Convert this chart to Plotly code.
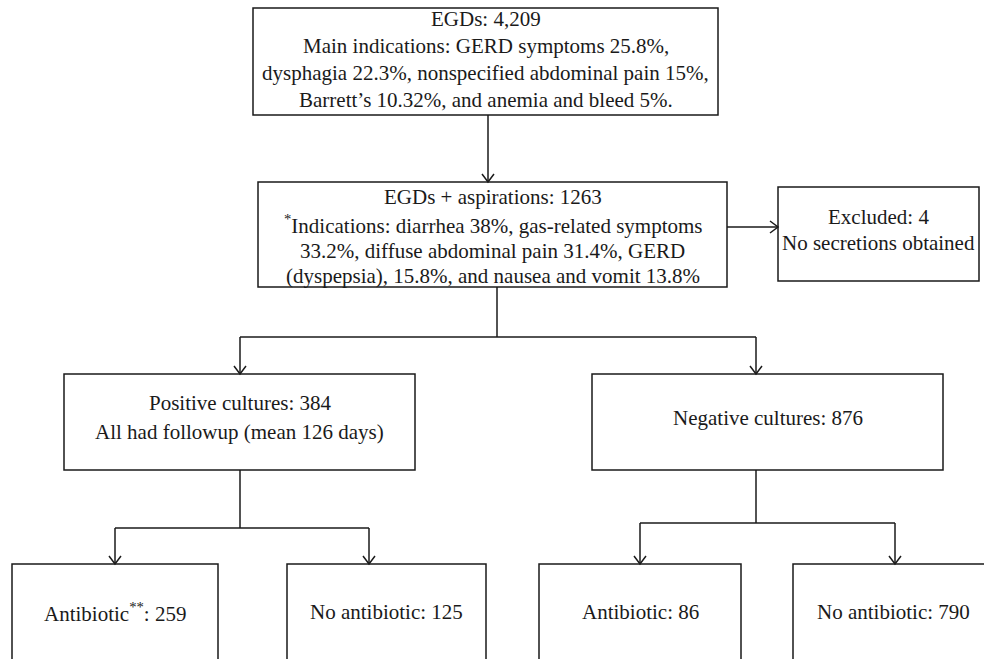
import plotly.graph_objects as go

# ---------------- data ----------------
egds_total = "4,209"
main_indications = ["GERD symptoms 25.8%,",
                    "dysphagia 22.3%, nonspecified abdominal pain 15%,",
                    "Barrett\u2019s 10.32%, and anemia and bleed 5%."]
aspirations_total = 1263
aspiration_indications = ["diarrhea 38%, gas-related symptoms",
                          "33.2%, diffuse abdominal pain 31.4%, GERD",
                          "(dyspepsia), 15.8%, and nausea and vomit 13.8%"]
excluded_n = 4
positive_n = 384
negative_n = 876
followup_mean_days = 126
pos_antibiotic = 259
pos_no_antibiotic = 125
neg_antibiotic = 86
neg_no_antibiotic = 790

# ---------------- texts per box ----------------
box_texts = {
    "top": [f"EGDs: {egds_total}", "Main indications: " + main_indications[0],
            main_indications[1], main_indications[2]],
    "asp": [f"EGDs + aspirations: {aspirations_total}",
            "<sup>*</sup>Indications: " + aspiration_indications[0],
            aspiration_indications[1], aspiration_indications[2]],
    "exc": [f"Excluded: {excluded_n}", "No secretions obtained"],
    "pos": [f"Positive cultures: {positive_n}",
            f"All had followup (mean {followup_mean_days} days)"],
    "neg": [f"Negative cultures: {negative_n}"],
    "pa": [f"Antibiotic<sup>**</sup>: {pos_antibiotic}"],
    "pn": [f"No antibiotic: {pos_no_antibiotic}"],
    "na": [f"Antibiotic: {neg_antibiotic}"],
    "nn": [f"No antibiotic: {neg_no_antibiotic}"],
}

# ---------------- geometry (layout, pixels) ----------------
W, H = 984, 659
boxes = {  # x0, x1, y0, y1
    "top": (253, 718, 8, 115),
    "asp": (258, 727, 182, 287),
    "exc": (778, 979, 187, 281),
    "pos": (64, 415, 374, 470),
    "neg": (592, 943, 374, 470),
    "pa": (12, 218, 564, 700),
    "pn": (287, 486, 564, 700),
    "na": (539, 741, 564, 700),
    "nn": (793, 1010, 564, 700),
}
text_y = {
    "top": [19, 46, 73, 100],
    "asp": [197, 224, 251, 276],
    "exc": [217, 243],
    "pos": [403, 432],
    "neg": [418],
    "pa": [612], "pn": [612], "na": [612], "nn": [612],
}
text_x = {"nn": 893}

LINE = "#1a1a1a"
FONT = "Liberation Serif"
FS = 21

fig = go.Figure()
shapes = []
for k, (x0, x1, y0, y1) in boxes.items():
    shapes.append(dict(type="rect", xref="x", yref="y", x0=x0, x1=x1, y0=y0, y1=y1,
                       line=dict(color=LINE, width=1.5), fillcolor="white", layer="below"))

def seg(x0, y0, x1, y1):
    shapes.append(dict(type="line", xref="x", yref="y", x0=x0, y0=y0, x1=x1, y1=y1,
                       line=dict(color=LINE, width=1.5)))

def arrow_down(x, y0, y1):
    seg(x, y0, x, y1)
    shapes.append(dict(type="path", xref="x", yref="y",
                       path=f"M {x-6},{y1-8} L {x},{y1} L {x+6},{y1-8}",
                       line=dict(color=LINE, width=1.5)))

def arrow_right(y, x0, x1):
    seg(x0, y, x1, y)
    shapes.append(dict(type="path", xref="x", yref="y",
                       path=f"M {x1-8},{y-6} L {x1},{y} L {x1-8},{y+6}",
                       line=dict(color=LINE, width=1.5)))

# connectors
arrow_down(488, 115, 182)
arrow_right(227, 727, 778)
seg(497, 287, 497, 337)
seg(240, 337, 756, 337)
arrow_down(240, 337, 374)
arrow_down(756, 337, 374)
seg(240, 470, 240, 528)
seg(115, 528, 369, 528)
arrow_down(115, 528, 564)
arrow_down(369, 528, 564)
seg(756, 470, 756, 523)
seg(640, 523, 895, 523)
arrow_down(640, 523, 564)
arrow_down(895, 523, 564)

annotations = []
for k, lines in box_texts.items():
    x0, x1, _, _ = boxes[k]
    cx = text_x.get(k, (x0 + x1) / 2)
    for t, y in zip(lines, text_y[k]):
        annotations.append(dict(x=cx, y=y, xref="x", yref="y", text=t, showarrow=False,
                                xanchor="center", yanchor="middle",
                                font=dict(family=FONT, size=FS, color="#1a1a1a")))

fig.update_layout(
    width=W, height=H, margin=dict(l=0, r=0, t=0, b=0),
    paper_bgcolor="white", plot_bgcolor="white",
    xaxis=dict(range=[0, W], visible=False, fixedrange=True),
    yaxis=dict(range=[H, 0], visible=False, fixedrange=True),
    shapes=shapes, annotations=annotations, showlegend=False,
)
fig.write_html("out.html", config={"displayModeBar": False},
               post_script="document.body.style.margin='0px';document.body.style.overflow='hidden';")
